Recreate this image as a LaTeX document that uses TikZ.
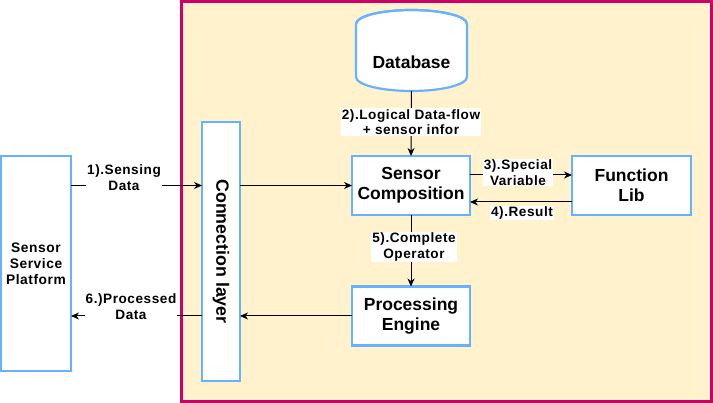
\documentclass[tikz,border=0pt]{standalone}
\usepackage{fontspec}
\setmainfont{Liberation Sans}
\newfontfamily\lblfont[LetterSpace=4]{Liberation Sans}
\usetikzlibrary{arrows.meta,calc}
\definecolor{framepink}{HTML}{CC0066}
\definecolor{paper}{HTML}{FFF2CC}
\definecolor{boxblue}{HTML}{66B2FF}
\tikzset{
  bluebox/.style={draw=boxblue, line width=2.2pt, fill=white, inner sep=0pt, outer sep=0pt,
    align=center, font=\bfseries\fontsize{17.5}{20}\selectfont},
  lbl/.style={fill=white, inner sep=1pt, align=center, font=\lblfont\bfseries\fontsize{13.6}{15.5}\selectfont},
  flow/.style={draw=black, line width=1pt, -{Stealth[length=8pt,width=7pt,inset=2.5pt]}},
}
\begin{document}
\begin{tikzpicture}[x=1pt,y=-1pt]
\useasboundingbox (0,0) rectangle (713,403);
% frame
\draw[draw=framepink, fill=paper, line width=3pt] (181.5,1.5) rectangle (711.5,401.5);
% boxes
\node[bluebox, minimum width=70pt, minimum height=215pt, font=\lblfont\bfseries\fontsize{13.8}{15.8}\selectfont] (ssp) at (36,263.5) {Sensor\\Service\\Platform};
\node[bluebox, minimum width=38pt, minimum height=259pt] (cl) at (221,251.5) {};
\node[rotate=-90, font=\bfseries\fontsize{17.8}{20}\selectfont] (cltext) at (cl.center) {Connection layer};
\node[bluebox, minimum width=118pt, minimum height=59pt] (sc) at (411,185.5) {Sensor\\Composition};
\node[bluebox, minimum width=119pt, minimum height=59pt] (fl) at (631.5,185.5) {Function\\Lib};
\node[bluebox, minimum width=118pt, minimum height=59pt] (pe) at (411,316) {Processing\\Engine};
% database cylinder
\node[minimum width=111pt, minimum height=81pt, inner sep=0pt, outer sep=0pt] (db) at (411.5,50.5) {};
\draw[draw=boxblue, line width=2.2pt, fill=white]
  (356,24) -- (356,77) arc[start angle=180, end angle=360, x radius=55.5pt, y radius=14pt]
  -- (467,24) arc[start angle=0, end angle=180, x radius=55.5pt, y radius=14pt] -- cycle;
\draw[draw=boxblue, line width=2.2pt]
  (356,24) arc[start angle=180, end angle=360, x radius=55.5pt, y radius=-14pt];
\node[font=\bfseries\fontsize{17.5}{20}\selectfont] (dbtext) at (411.5,62) {Database};
% connectors
\draw[flow] (ssp.east |- sc.west) -- (cl.west |- sc.west);
\draw[flow] (cl.east |- sc.west) -- (sc.west);
\draw[flow] (db.south) -- (sc.north);
\draw[flow] ([yshift=10.5pt]sc.east) -- ([yshift=10.5pt]fl.west);
\draw[flow] ([yshift=-16.5pt]fl.west) -- ([yshift=-16.5pt]sc.east);
\draw[flow] (sc.south) -- (pe.north);
\draw[flow] (pe.west) -- (pe.west -| cl.east);
\draw[flow] (cl.west |- pe.west) -- (ssp.east |- pe.west);
% labels
\node[lbl] (l1) at (124,177.5) {1).Sensing\\Data};
\node[lbl] (l2) at (411,122) {2).Logical Data-flow\\+ sensor infor};
\node[lbl] (l3) at (518,172.5) {3).Special\\Variable};
\node[lbl] (l4) at (522,213) {4).Result};
\node[lbl] (l5) at (414,247) {5).Complete\\Operator};
\node[lbl] (l6) at (131,306.5) {6.)Processed\\Data};
\end{tikzpicture}
\end{document}
